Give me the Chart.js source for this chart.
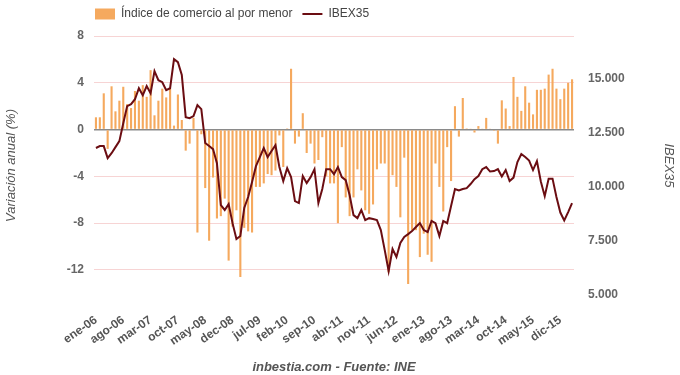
<!DOCTYPE html>
<html>
<head>
  <meta charset="utf-8">
  <title>Comercio al por menor e IBEX35</title>
  <script src="https://cdn.jsdelivr.net/npm/chart.js"></script>
  <style>
    body { margin: 0; background: #ffffff; }
    #wrap { width: 680px; height: 375px; }
  </style>
</head>
<body>
  <div id="wrap"><canvas id="grafico"></canvas></div>

  <script>
    // meses (ene-06 ... mar-16)
    var meses = [
      "ene-06","feb-06","mar-06","abr-06","may-06","jun-06","jul-06","ago-06","sep-06","oct-06","nov-06","dic-06",
      "ene-07","feb-07","mar-07","abr-07","may-07","jun-07","jul-07","ago-07","sep-07","oct-07","nov-07","dic-07",
      "ene-08","feb-08","mar-08","abr-08","may-08","jun-08","jul-08","ago-08","sep-08","oct-08","nov-08","dec-08",
      "ene-09","feb-09","mar-09","abr-09","may-09","jun-09","jul-09","ago-09","sep-09","oct-09","nov-09","dic-09",
      "ene-10","feb-10","mar-10","abr-10","may-10","jun-10","jul-10","ago-10","sep-10","oct-10","nov-10","dic-10",
      "ene-11","feb-11","mar-11","abr-11","may-11","jun-11","jul-11","ago-11","sep-11","oct-11","nov-11","dic-11",
      "ene-12","feb-12","mar-12","abr-12","may-12","jun-12","jul-12","ago-12","sep-12","oct-12","nov-12","dic-12",
      "ene-13","feb-13","mar-13","abr-13","may-13","jun-13","jul-13","ago-13","sep-13","oct-13","nov-13","dic-13",
      "ene-14","feb-14","mar-14","abr-14","may-14","jun-14","jul-14","ago-14","sep-14","oct-14","nov-14","dic-14",
      "ene-15","feb-15","mar-15","abr-15","may-15","jun-15","jul-15","ago-15","sep-15","oct-15","nov-15","dic-15",
      "ene-16","feb-16","mar-16"
    ];

    // variacion anual del indice de comercio al por menor (%)
    var comercio = [
      1.05, 1.05, 3.1, -1.65, 3.7, 1.56, 2.47, 3.66, 2.18, 1.84, 3.3, 2.47,
      3.8, 2.8, 5.08, 1.22, 2.47, 3.5, 2.75, 3.5, 0.34, 3.0, 0.82, -1.8,
      -1.2, 1.0, -8.8, -0.4, -5.0, -9.5, -4.1, -7.6, -7.4, -5.9, -11.2, -8.3,
      -6.9, -12.6, -8.4, -8.7, -8.8, -4.9, -4.9, -4.6, -3.8, -3.9, -3.5, -0.5,
      -3.2, 0.1, 5.2, -1.2, -0.6, 1.4, -2.0, -1.2, -2.9, -2.6, -0.65, -4.0,
      -4.6, -4.6, -8.0, -1.5, -5.8, -7.4, -5.8, -3.4, -5.2, -6.9, -7.2, -6.4,
      -3.4, -2.9, -2.9, -12.2, -3.9, -4.9, -7.5, -2.4, -13.2, -8.6, -8.6, -10.9,
      -8.9, -10.7, -11.3, -2.9, -4.9, -7.0, -1.5, -4.4, 2.0, -0.6, 2.7, 0.1,
      0.05, -0.25, 0.3, 0.05, 1.0, 0.05, -0.1, -1.2, 2.5, 1.8, 0.3, 4.5,
      2.8, 1.6, 3.7, 2.3, 1.3, 3.4, 3.4, 3.5, 4.7, 5.2, 3.5, 2.6,
      3.5, 4.0, 4.3
    ];

    // IBEX35, cierre mensual
    var ibex = [
      11810, 11900, 11900, 11340, 11570, 11850, 12130, 12960, 13750, 13840, 14070, 14580,
      14260, 14680, 14350, 15370, 14950, 14860, 14490, 14580, 15930, 15790, 15190, 13240,
      13190, 13290, 13800, 13610, 12040, 11900, 11760, 11110, 9170, 8940, 9210, 8330,
      7590, 7730, 9030, 9540, 10230, 10970, 11390, 11810, 11390, 11670, 11940, 10930,
      10280, 10880, 10460, 9350, 9260, 10510, 10190, 10460, 10830, 9260, 9910, 10830,
      10830, 10600, 10930, 10460, 10320, 9630, 8700, 8560, 8940, 8470, 8560, 8520,
      8470, 8010, 7080, 6110, 7130, 6760, 7410, 7690, 7820, 7960, 8150, 8330,
      8010, 7920, 8430, 8330, 7730, 8430, 8330, 9120, 9910, 9840, 9910, 9950,
      10140, 10370, 10510, 10830, 10930, 10720, 10740, 10830, 10490, 10790, 10280, 10440,
      11160, 11530, 11390, 11230, 10790, 11200, 10260, 9580, 10390, 10390, 9540, 8820,
      8450, 8840, 9260
    ];

    var ticksIzq = [8, 4, 0, -4, -8, -12];
    var ticksDer = [5000, 7500, 10000, 12500, 15000];

    var fuente = "'Liberation Sans', Arial, sans-serif";

    function miles(v) {
      return String(v).replace(/\B(?=(\d{3})+(?!\d))/g, ".");
    }

    // mueve la leyenda para que empiece sobre el area del grafico
    var moverLeyenda = {
      id: "moverLeyenda",
      afterLayout: function (chart) {
        var lg = chart.legend;
        var dx = chart.chartArea.left - 9 - lg.left;
        lg.left += dx;
        lg.right += dx;
        lg.top -= 6;
        lg.bottom -= 6;
      }
    };

    var ctx = document.getElementById("grafico").getContext("2d");
    var grafico = new Chart(ctx, {
      type: "bar",
      data: {
        labels: meses,
        datasets: [
          {
            type: "bar",
            label: "Índice de comercio al por menor",
            data: comercio,
            backgroundColor: "#f5a95e",
            borderWidth: 0,
            barPercentage: 0.6,
            categoryPercentage: 0.9,
            pointStyle: "rect",
            yAxisID: "y",
            order: 1
          },
          {
            type: "line",
            label: "IBEX35",
            data: ibex,
            borderColor: "#6b0d12",
            backgroundColor: "#6b0d12",
            borderWidth: 2,
            pointRadius: 0,
            tension: 0,
            pointStyle: "line",
            yAxisID: "y1",
            order: 0
          }
        ]
      },
      options: {
        responsive: true,
        maintainAspectRatio: false,
        animation: false,
        layout: { padding: { top: 4, left: 0, right: 0, bottom: 0 } },
        plugins: {
          legend: {
            position: "top",
            align: "start",
            labels: {
              usePointStyle: true,
              pointStyleWidth: 20,
              boxHeight: 11,
              padding: 10,
              color: "#444",
              font: { family: fuente, size: 12 },
              sort: function (a, b) { return a.datasetIndex - b.datasetIndex; }
            }
          },
          tooltip: { enabled: false }
        },
        scales: {
          x: {
            offset: true,
            grid: { display: false, drawTicks: false },
            border: { display: false },
            ticks: {
              autoSkip: false,
              maxRotation: 35,
              minRotation: 35,
              padding: 18,
              color: "#555",
              font: { family: fuente, size: 12, weight: "bold" },
              callback: function (v, i) {
                return i % 7 === 0 ? meses[i] : "";
              }
            },
            title: {
              display: true,
              text: "inbestia.com - Fuente: INE",
              color: "#555",
              font: { family: fuente, size: 13, style: "italic", weight: "bold" },
              padding: { top: 4, bottom: 0 }
            },
            afterFit: function (s) { s.height = 80; }
          },
          y: {
            position: "left",
            min: -14.14,
            max: 8,
            afterBuildTicks: function (s) {
              s.ticks = ticksIzq.map(function (v) { return { value: v }; });
            },
            grid: {
              drawTicks: false,
              color: function (c) { return c.tick && c.tick.value === 0 ? "#8a8a8a" : "#f7d4d4"; },
              lineWidth: function (c) { return c.tick && c.tick.value === 0 ? 1.5 : 1; }
            },
            border: { display: false },
            ticks: {
              padding: 10,
              color: "#666",
              font: { family: fuente, size: 12, weight: "bold" }
            },
            title: {
              display: true,
              text: "Variación anual (%)",
              color: "#555",
              font: { family: fuente, size: 13, style: "italic" }
            },
            afterFit: function (s) { s.width = 94; }
          },
          y1: {
            position: "right",
            min: 5000,
            max: 17000,
            afterBuildTicks: function (s) {
              s.ticks = ticksDer.map(function (v) { return { value: v }; });
            },
            grid: { display: false, drawTicks: false },
            border: { display: false },
            ticks: {
              padding: 14,
              color: "#666",
              font: { family: fuente, size: 12, weight: "bold" },
              callback: function (v) { return miles(v); }
            },
            title: {
              display: true,
              text: "IBEX35",
              color: "#555",
              font: { family: fuente, size: 13, style: "italic" }
            },
            afterFit: function (s) { s.width = 106; }
          }
        }
      },
      plugins: [moverLeyenda]
    });
  </script>
</body>
</html>
